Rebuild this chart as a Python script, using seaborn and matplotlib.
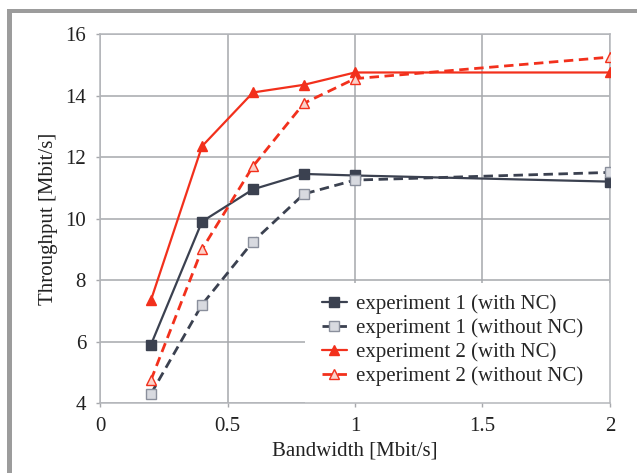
import matplotlib
matplotlib.use("Agg")
import matplotlib.pyplot as plt
import seaborn as sns
import pandas as pd
from matplotlib.patches import Rectangle

# values
bandwidth = [0.2, 0.4, 0.6, 0.8, 1.0, 2.0]
exp1_nc = [5.9, 9.9, 10.95, 11.45, 11.4, 11.2]
exp1_no_nc = [4.3, 7.2, 9.25, 10.8, 11.25, 11.5]
exp2_nc = [7.35, 12.35, 14.1, 14.35, 14.75, 14.75]
exp2_no_nc = [4.75, 9.0, 11.7, 13.75, 14.55, 15.25]

series_names = ["experiment 1 (with NC)", "experiment 1 (without NC)",
                "experiment 2 (with NC)", "experiment 2 (without NC)"]
x_ticks = [0, 0.5, 1, 1.5, 2]
y_ticks = [4, 6, 8, 10, 12, 14, 16]

DARK = "#3b4150"
RED = "#f2301c"
FS = 15

sns.set_theme(style="whitegrid")
plt.rcParams['font.family'] = ['Liberation Serif', 'DejaVu Serif']
plt.rcParams['font.size'] = FS

df = pd.DataFrame({
    "bandwidth": bandwidth * 4,
    "throughput": exp1_nc + exp1_no_nc + exp2_nc + exp2_no_nc,
    "series": sum([[s] * len(bandwidth) for s in series_names], []),
})

fig = plt.figure(figsize=(6.37, 4.73), dpi=100)
ax = fig.add_axes([0.157, 0.148, 0.8006, 0.780])

styles = {
    series_names[0]: dict(color=DARK, ls="-", lw=1.6, marker="s", mfc=DARK, mec=DARK),
    series_names[1]: dict(color=DARK, ls=(0, (3.4, 2.0)), lw=2.0, marker="s", mfc="#d8dae0", mec="#8a8f9c"),
    series_names[2]: dict(color=RED, ls="-", lw=1.6, marker="^", mfc=RED, mec=RED),
    series_names[3]: dict(color=RED, ls=(0, (3.4, 2.0)), lw=2.0, marker="^", mfc="#fbd0c8", mec=RED),
}

for name in series_names:
    sub = df[df["series"] == name]
    st = styles[name]
    sns.lineplot(data=sub, x="bandwidth", y="throughput", ax=ax, label=name,
                 color=st["color"], linestyle=st["ls"], marker=st["marker"],
                 markersize=6.5, markerfacecolor=st["mfc"], markeredgecolor=st["mec"],
                 markeredgewidth=1, linewidth=st["lw"], zorder=3)

ax.set_xlim(0, 2)
ax.set_ylim(4, 16)
ax.set_xticks(x_ticks)
ax.set_xticklabels(["0", "0.5", "1", "1.5", "2"])
ax.set_yticks(y_ticks)
ax.grid(True, color="#a6a8ac", linewidth=1.1)
ax.set_axisbelow(True)
for sp in ax.spines.values():
    sp.set_color("#b4b6ba")
    sp.set_linewidth(1.1)
ax.tick_params(axis="both", length=3, width=1, color="#a6a8ac", labelsize=FS,
               labelcolor="#222222", pad=7, bottom=True, left=True)
ax.set_xlabel("Bandwidth [Mbit/s]", fontsize=FS, color="#222222", labelpad=4)
ax.set_ylabel("Throughput [Mbit/s]", fontsize=FS, color="#222222", labelpad=5)

# white block behind the legend, hides the grid there
ax.add_patch(Rectangle((0.402, 0.0), 0.598, 0.325, transform=ax.transAxes,
                       facecolor="white", edgecolor="none", zorder=1.5))
ax.legend(loc="upper left", bbox_to_anchor=(0.435, 0.294),
          frameon=False, fontsize=FS, handlelength=1.2, handletextpad=0.45,
          labelspacing=0.2, borderpad=0.0, borderaxespad=0.0)

# gray frame along the top and left of the picture
fig.patches.append(Rectangle((7 / 637, 0), 5 / 637, 1 - 9 / 473, transform=fig.transFigure,
                             facecolor="#9c9c9c", edgecolor="none"))
fig.patches.append(Rectangle((7 / 637, 1 - 13 / 473), 1, 4 / 473, transform=fig.transFigure,
                             facecolor="#9c9c9c", edgecolor="none"))

fig.savefig("out.png", dpi=100)
